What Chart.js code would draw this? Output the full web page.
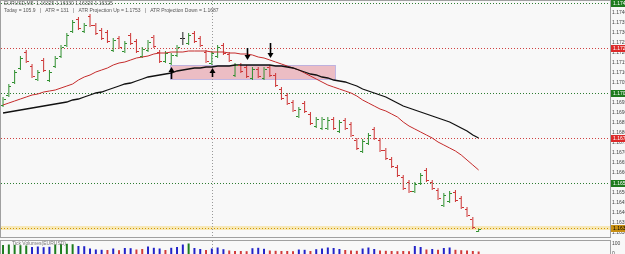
<!DOCTYPE html>
<html>
<head>
<meta charset="utf-8">
<script src="https://cdn.jsdelivr.net/npm/chart.js@4"></script>
<style>
  html, body { margin: 0; padding: 0; background: #f8f8f8; overflow: hidden; }
  #wrap { position: relative; width: 625px; height: 254px; }
  #price { position: absolute; left: 0; top: 0; }
  #vol { position: absolute; left: 0; top: 239px; }
</style>
</head>
<body>
<div id="wrap">
  <canvas id="price" width="625" height="239"></canvas>
  <canvas id="vol" width="625" height="15"></canvas>
</div>
<script>
// EURUSD M5 bars
const opens = [1.16940,1.16990,1.17055,1.17125,1.17205,1.17135,1.17070,1.17165,1.17065,1.17135,
  1.17185,1.17240,1.17310,1.17370,1.17310,1.17385,1.17340,1.17315,1.17305,1.17215,
  1.17275,1.17210,1.17290,1.17260,1.17185,1.17215,1.17280,1.17205,1.17160,1.17150,
  1.17190,1.17275,1.17250,1.17300,1.17275,1.17205,1.17150,1.17185,1.17240,1.17195,
  1.17090,1.17140,1.17130,1.17075,1.17120,1.17075,1.17130,1.17090,1.17020,1.16990,
  1.16955,1.16885,1.16950,1.16895,1.16835,1.16825,1.16825,1.16870,1.16810,1.16865,
  1.16845,1.16765,1.16710,1.16750,1.16820,1.16765,1.16715,1.16670,1.16630,1.16580,
  1.16555,1.16510,1.16550,1.16615,1.16555,1.16515,1.16440,1.16460,1.16505,1.16475,
  1.16420,1.16370,1.16310];
const highs = [1.16980,1.17045,1.17115,1.17185,1.17215,1.17145,1.17115,1.17175,1.17115,1.17185,
  1.17240,1.17300,1.17365,1.17380,1.17350,1.17395,1.17350,1.17325,1.17315,1.17275,
  1.17285,1.17260,1.17300,1.17270,1.17230,1.17265,1.17290,1.17215,1.17210,1.17200,
  1.17240,1.17305,1.17300,1.17310,1.17285,1.17215,1.17210,1.17240,1.17250,1.17205,
  1.17150,1.17150,1.17140,1.17130,1.17130,1.17130,1.17140,1.17100,1.17030,1.17000,
  1.16965,1.16930,1.16960,1.16905,1.16880,1.16880,1.16880,1.16880,1.16865,1.16875,
  1.16855,1.16775,1.16770,1.16800,1.16830,1.16775,1.16725,1.16680,1.16640,1.16590,
  1.16565,1.16555,1.16600,1.16625,1.16565,1.16525,1.16500,1.16510,1.16515,1.16485,
  1.16430,1.16380,1.16320];
const lows = [1.16930,1.16980,1.17045,1.17115,1.17150,1.17075,1.17060,1.17105,1.17055,1.17125,
  1.17175,1.17230,1.17300,1.17315,1.17300,1.17330,1.17290,1.17265,1.17250,1.17205,
  1.17220,1.17200,1.17240,1.17200,1.17175,1.17205,1.17225,1.17150,1.17150,1.17140,
  1.17180,1.17240,1.17240,1.17250,1.17230,1.17150,1.17140,1.17175,1.17190,1.17155,
  1.17080,1.17100,1.17075,1.17065,1.17075,1.17065,1.17080,1.17030,1.16965,1.16940,
  1.16905,1.16875,1.16900,1.16840,1.16825,1.16815,1.16815,1.16815,1.16800,1.16815,
  1.16780,1.16715,1.16700,1.16740,1.16765,1.16705,1.16665,1.16625,1.16580,1.16515,
  1.16500,1.16500,1.16540,1.16555,1.16515,1.16465,1.16430,1.16450,1.16455,1.16420,
  1.16380,1.16320,1.16305];
const closes = [1.16970,1.17035,1.17105,1.17175,1.17160,1.17085,1.17105,1.17115,1.17105,1.17175,
  1.17230,1.17290,1.17355,1.17325,1.17340,1.17340,1.17300,1.17275,1.17260,1.17265,
  1.17230,1.17250,1.17250,1.17210,1.17220,1.17255,1.17235,1.17160,1.17200,1.17190,
  1.17230,1.17275,1.17290,1.17260,1.17240,1.17160,1.17200,1.17230,1.17200,1.17165,
  1.17140,1.17110,1.17085,1.17120,1.17085,1.17120,1.17090,1.17040,1.16975,1.16950,
  1.16915,1.16920,1.16910,1.16850,1.16870,1.16870,1.16865,1.16825,1.16855,1.16825,
  1.16790,1.16725,1.16760,1.16790,1.16775,1.16715,1.16675,1.16635,1.16590,1.16525,
  1.16510,1.16545,1.16590,1.16565,1.16525,1.16475,1.16490,1.16500,1.16465,1.16430,
  1.16390,1.16330,1.16320];

// moving averages (red = fast, black = slow)
const maFast = [1.16940,1.16950,1.16960,1.16970,1.16980,1.16990,1.16995,1.17005,1.17010,1.17015,
  1.17025,1.17035,1.17045,1.17065,1.17080,1.17090,1.17105,1.17115,1.17125,1.17140,
  1.17150,1.17155,1.17165,1.17175,1.17180,1.17185,1.17195,1.17200,1.17200,1.17205,
  1.17205,1.17205,1.17210,1.17210,1.17210,1.17210,1.17205,1.17205,1.17205,1.17200,
  1.17200,1.17195,1.17195,1.17190,1.17180,1.17175,1.17165,1.17155,1.17145,1.17135,
  1.17125,1.17115,1.17100,1.17085,1.17070,1.17055,1.17040,1.17030,1.17020,1.17010,
  1.17000,1.16985,1.16965,1.16950,1.16935,1.16920,1.16910,1.16895,1.16880,1.16855,
  1.16835,1.16820,1.16805,1.16790,1.16775,1.16755,1.16740,1.16725,1.16710,1.16690,
  1.16665,1.16640,1.16615];
const maSlow = [1.16900,1.16905,1.16910,1.16915,1.16920,1.16925,1.16930,1.16935,1.16940,1.16945,
  1.16950,1.16955,1.16965,1.16970,1.16980,1.16990,1.17000,1.17005,1.17015,1.17025,
  1.17035,1.17045,1.17050,1.17060,1.17070,1.17080,1.17085,1.17090,1.17095,1.17100,
  1.17110,1.17115,1.17120,1.17125,1.17125,1.17130,1.17130,1.17135,1.17135,1.17135,
  1.17140,1.17140,1.17140,1.17140,1.17140,1.17140,1.17140,1.17135,1.17135,1.17130,
  1.17125,1.17115,1.17105,1.17095,1.17090,1.17080,1.17075,1.17065,1.17060,1.17055,
  1.17045,1.17035,1.17020,1.17010,1.17000,1.16990,1.16980,1.16965,1.16950,1.16935,
  1.16925,1.16915,1.16905,1.16895,1.16885,1.16875,1.16865,1.16855,1.16840,1.16825,
  1.16810,1.16790,1.16775];

// tick volumes and their colour class (u = rising, n = normal, d = falling)
const volumes = [90,95,92,88,85,70,75,68,72,95,100,102,98,80,78,55,45,42,40,55,
  38,60,58,45,50,75,62,55,40,62,70,95,105,60,50,40,55,65,48,35,
  30,30,28,58,62,52,35,32,30,30,28,45,42,30,48,55,65,60,50,40,
  35,32,55,65,50,35,32,30,28,30,28,80,70,45,50,42,60,65,42,38,
  35,30,25];
const volumeTrend = ('uuuuu' + 'nnnn' + 'uuuu' + 'nnnnn' + 'dndnnddnnndnnnu' + 'nndnnndddd' +
  'nnnddddd' + 'nndnnnnn' + 'ddd' + 'nnn' + 'dddddd' + 'nn' + 'dndnnddddd').split('');

// horizontal levels, support/resistance zone, signal arrows
const levels = [1.17450, 1.17225, 1.17000, 1.16775, 1.16550, 1.16325];
const levelKind = ['high', 'res', 'pivot', 'res', 'sup', 'price'];
const zoneBars = [28.8, 57.2];
const zonePrices = [1.17140, 1.17070];
const arrowBars = [29, 36, 42, 46];
const arrowFrom = [1.17070, 1.17080, 1.17225, 1.17250];
const arrowTo = [1.17130, 1.17125, 1.17165, 1.17175];
const markerBar = 36;

const titleLine = 'EURUSD,M5  1.16325 1.16330 1.16320 1.16325';
const infoLine = 'Today = 105.9   |   ATR = 131   |   ATR Projection Up = 1.1753   |   ATR Projection Down = 1.1687';
const volumeTitle = 'Tick Volumes(EURUSD)';

const barIndex = opens.map((_, i) => i);

const UP = '#2f8f2f', DOWN = '#cc3333', DOJI = '#222222';
const barColor = i => closes[i] > opens[i] ? UP : (closes[i] < opens[i] ? DOWN : DOJI);
const VOLC = { u: '#1e7d1e', n: '#2323c8', d: '#d23a3a' };
const LEVEL_STYLE = {
  high:  { line: '#2e7d32', box: '#1e7b1e', text: '#fff' },
  res:   { line: '#d04040', box: '#dd2a2a', text: '#fff' },
  pivot: { line: '#2e7d32', box: '#1e7b1e', text: '#fff' },
  sup:   { line: '#2e7d32', box: '#1e7b1e', text: '#fff' },
  price: { line: '#d09a00', box: '#c98f12', text: '#000' }
};
const FONT = '5px "Liberation Sans", Arial, sans-serif';

const X_MIN = -0.35, X_MAX = 104.65;

const pricePlugin = {
  id: 'mtPrice',
  beforeDatasetsDraw(chart) {
    const { ctx, chartArea: a, scales: { x, y } } = chart;
    ctx.save();
    // current price band
    const pb = Math.round(y.getPixelForValue(levels[5]));
    ctx.fillStyle = '#f7e8b8';
    ctx.fillRect(a.left, pb - 2, a.width, 4);
    // zone
    const zx1 = Math.round(x.getPixelForValue(zoneBars[0]));
    const zx2 = Math.round(x.getPixelForValue(zoneBars[1]));
    const zy1 = Math.round(y.getPixelForValue(zonePrices[0]));
    const zy2 = Math.round(y.getPixelForValue(zonePrices[1]));
    ctx.fillStyle = 'rgba(228,150,162,0.6)';
    ctx.fillRect(zx1, zy1, zx2 - zx1, zy2 - zy1);
    ctx.strokeStyle = 'rgba(185,175,225,0.9)';
    ctx.lineWidth = 1;
    ctx.strokeRect(zx1 + 0.5, zy1 + 0.5, zx2 - zx1, zy2 - zy1);
    // dotted levels
    ctx.setLineDash([1, 2]);
    levels.forEach((lv, k) => {
      const yy = Math.round(y.getPixelForValue(lv)) + 0.5;
      ctx.strokeStyle = LEVEL_STYLE[levelKind[k]].line;
      ctx.beginPath(); ctx.moveTo(a.left, yy); ctx.lineTo(a.right, yy); ctx.stroke();
    });
    // vertical marker
    const vx = Math.round(x.getPixelForValue(markerBar)) + 0.5;
    ctx.strokeStyle = '#999';
    ctx.beginPath(); ctx.moveTo(vx, a.top); ctx.lineTo(vx, a.bottom); ctx.stroke();
    ctx.restore();
  },
  afterDatasetsDraw(chart) {
    const { ctx, scales: { x, y } } = chart;
    ctx.save();
    // open / close ticks
    chart.getDatasetMeta(2).data.forEach((el, i) => {
      const px = Math.floor(el.x);
      ctx.fillStyle = barColor(i);
      ctx.fillRect(px - 2, Math.round(y.getPixelForValue(opens[i])), 2, 1);
      ctx.fillRect(px + 1, Math.round(y.getPixelForValue(closes[i])), 2, 1);
    });
    // arrows
    arrowBars.forEach((b, k) => {
      const ax = Math.round(x.getPixelForValue(b)) + 0.5;
      const y1 = y.getPixelForValue(arrowFrom[k]);
      const y2 = y.getPixelForValue(arrowTo[k]);
      const dir = Math.sign(y2 - y1);
      ctx.strokeStyle = '#000';
      ctx.lineWidth = 1.6;
      ctx.beginPath(); ctx.moveTo(ax, y1); ctx.lineTo(ax, y2 - dir * 3); ctx.stroke();
      ctx.fillStyle = '#000';
      ctx.beginPath();
      ctx.moveTo(ax, y2);
      ctx.lineTo(ax - 3, y2 - dir * 5);
      ctx.lineTo(ax + 3, y2 - dir * 5);
      ctx.closePath(); ctx.fill();
    });
    ctx.restore();
  },
  afterDraw(chart) {
    const { ctx, chartArea: a, scales: { y } } = chart;
    ctx.save();
    ctx.strokeStyle = '#a0a0a0';
    ctx.lineWidth = 1;
    ctx.strokeRect(a.left - 0.5, a.top - 0.5, a.width + 1, a.height + 1);
    ctx.font = FONT;
    ctx.textBaseline = 'middle';
    ctx.fillStyle = '#555';
    ctx.fillText(titleLine, 4, 3.5);
    ctx.fillText(infoLine, 4, 10.5);
    // level price boxes on the axis
    levels.forEach((lv, k) => {
      const st = LEVEL_STYLE[levelKind[k]];
      const yy = Math.round(y.getPixelForValue(lv));
      ctx.fillStyle = st.box;
      ctx.fillRect(a.right + 1, yy - 3, 30, 7);
      ctx.fillStyle = st.text;
      ctx.fillText(lv.toFixed(5), a.right + 3, yy + 0.5);
    });
    ctx.restore();
  }
};

const volPlugin = {
  id: 'mtVol',
  beforeDatasetsDraw(chart) {
    const { ctx, chartArea: a, scales: { x } } = chart;
    ctx.save();
    ctx.strokeStyle = '#999';
    ctx.setLineDash([1, 2]);
    const vx = Math.round(x.getPixelForValue(markerBar)) + 0.5;
    ctx.beginPath(); ctx.moveTo(vx, a.top); ctx.lineTo(vx, a.bottom); ctx.stroke();
    ctx.restore();
  },
  afterDraw(chart) {
    const { ctx, chartArea: a } = chart;
    ctx.save();
    ctx.strokeStyle = '#a0a0a0';
    ctx.strokeRect(a.left - 0.5, a.top - 0.5, a.width + 1, a.height + 4);
    ctx.font = FONT;
    ctx.textBaseline = 'middle';
    ctx.fillStyle = '#777';
    ctx.fillText(volumeTitle, 12, a.top + 3);
    ctx.restore();
  }
};

new Chart(document.getElementById('price'), {
  type: 'bar',
  data: {
    datasets: [
      {
        type: 'line', label: 'MA fast',
        data: maFast.map((v, i) => ({ x: i, y: v })),
        borderColor: '#c42a2a', borderWidth: 1, pointRadius: 0, order: 1
      },
      {
        type: 'line', label: 'MA slow',
        data: maSlow.map((v, i) => ({ x: i, y: v })),
        borderColor: '#111', borderWidth: 1.3, pointRadius: 0, order: 0
      },
      {
        type: 'bar', label: 'EURUSD',
        data: barIndex.map(i => ({ x: i, y: [lows[i], highs[i]] })),
        backgroundColor: barIndex.map(barColor),
        barThickness: 1, inflateAmount: 0, order: 2
      }
    ]
  },
  options: {
    responsive: false,
    animation: false,
    devicePixelRatio: 1,
    layout: { padding: { left: 1, top: 1, right: 0, bottom: 2 } },
    plugins: { legend: { display: false }, tooltip: { enabled: false } },
    scales: {
      x: { type: 'linear', min: X_MIN, max: X_MAX, display: false, offset: false },
      y: {
        position: 'right', min: 1.16280, max: 1.17460, beginAtZero: false,
        grid: { display: false, drawTicks: false },
        border: { display: false },
        ticks: {
          stepSize: 0.0005, includeBounds: false, autoSkip: false, padding: 2,
          color: '#444', font: { size: 5, family: 'Liberation Sans' },
          callback: v => v.toFixed(5)
        },
        afterFit(s) { s.width = 15; s.paddingTop = 0; s.paddingBottom = 0; }
      }
    }
  },
  plugins: [pricePlugin]
});

new Chart(document.getElementById('vol'), {
  type: 'bar',
  data: {
    datasets: [{
      label: 'Volume',
      data: volumes.map((v, i) => ({ x: i, y: v })),
      backgroundColor: volumeTrend.map(t => VOLC[t]),
      barThickness: 2, inflateAmount: 0
    }]
  },
  options: {
    responsive: false,
    animation: false,
    devicePixelRatio: 1,
    layout: { padding: { left: 1, top: 2, right: 0, bottom: 0 } },
    plugins: { legend: { display: false }, tooltip: { enabled: false } },
    scales: {
      x: { type: 'linear', min: X_MIN, max: X_MAX, display: false, offset: false },
      y: {
        position: 'right', min: 0, max: 130,
        grid: { display: false, drawTicks: false },
        border: { display: false },
        ticks: {
          stepSize: 100, includeBounds: false, autoSkip: false, padding: 2,
          color: '#444', font: { size: 5, family: 'Liberation Sans' }
        },
        afterFit(s) { s.width = 15; s.paddingTop = 0; s.paddingBottom = 0; }
      }
    }
  },
  plugins: [volPlugin]
});
</script>
</body>
</html>
